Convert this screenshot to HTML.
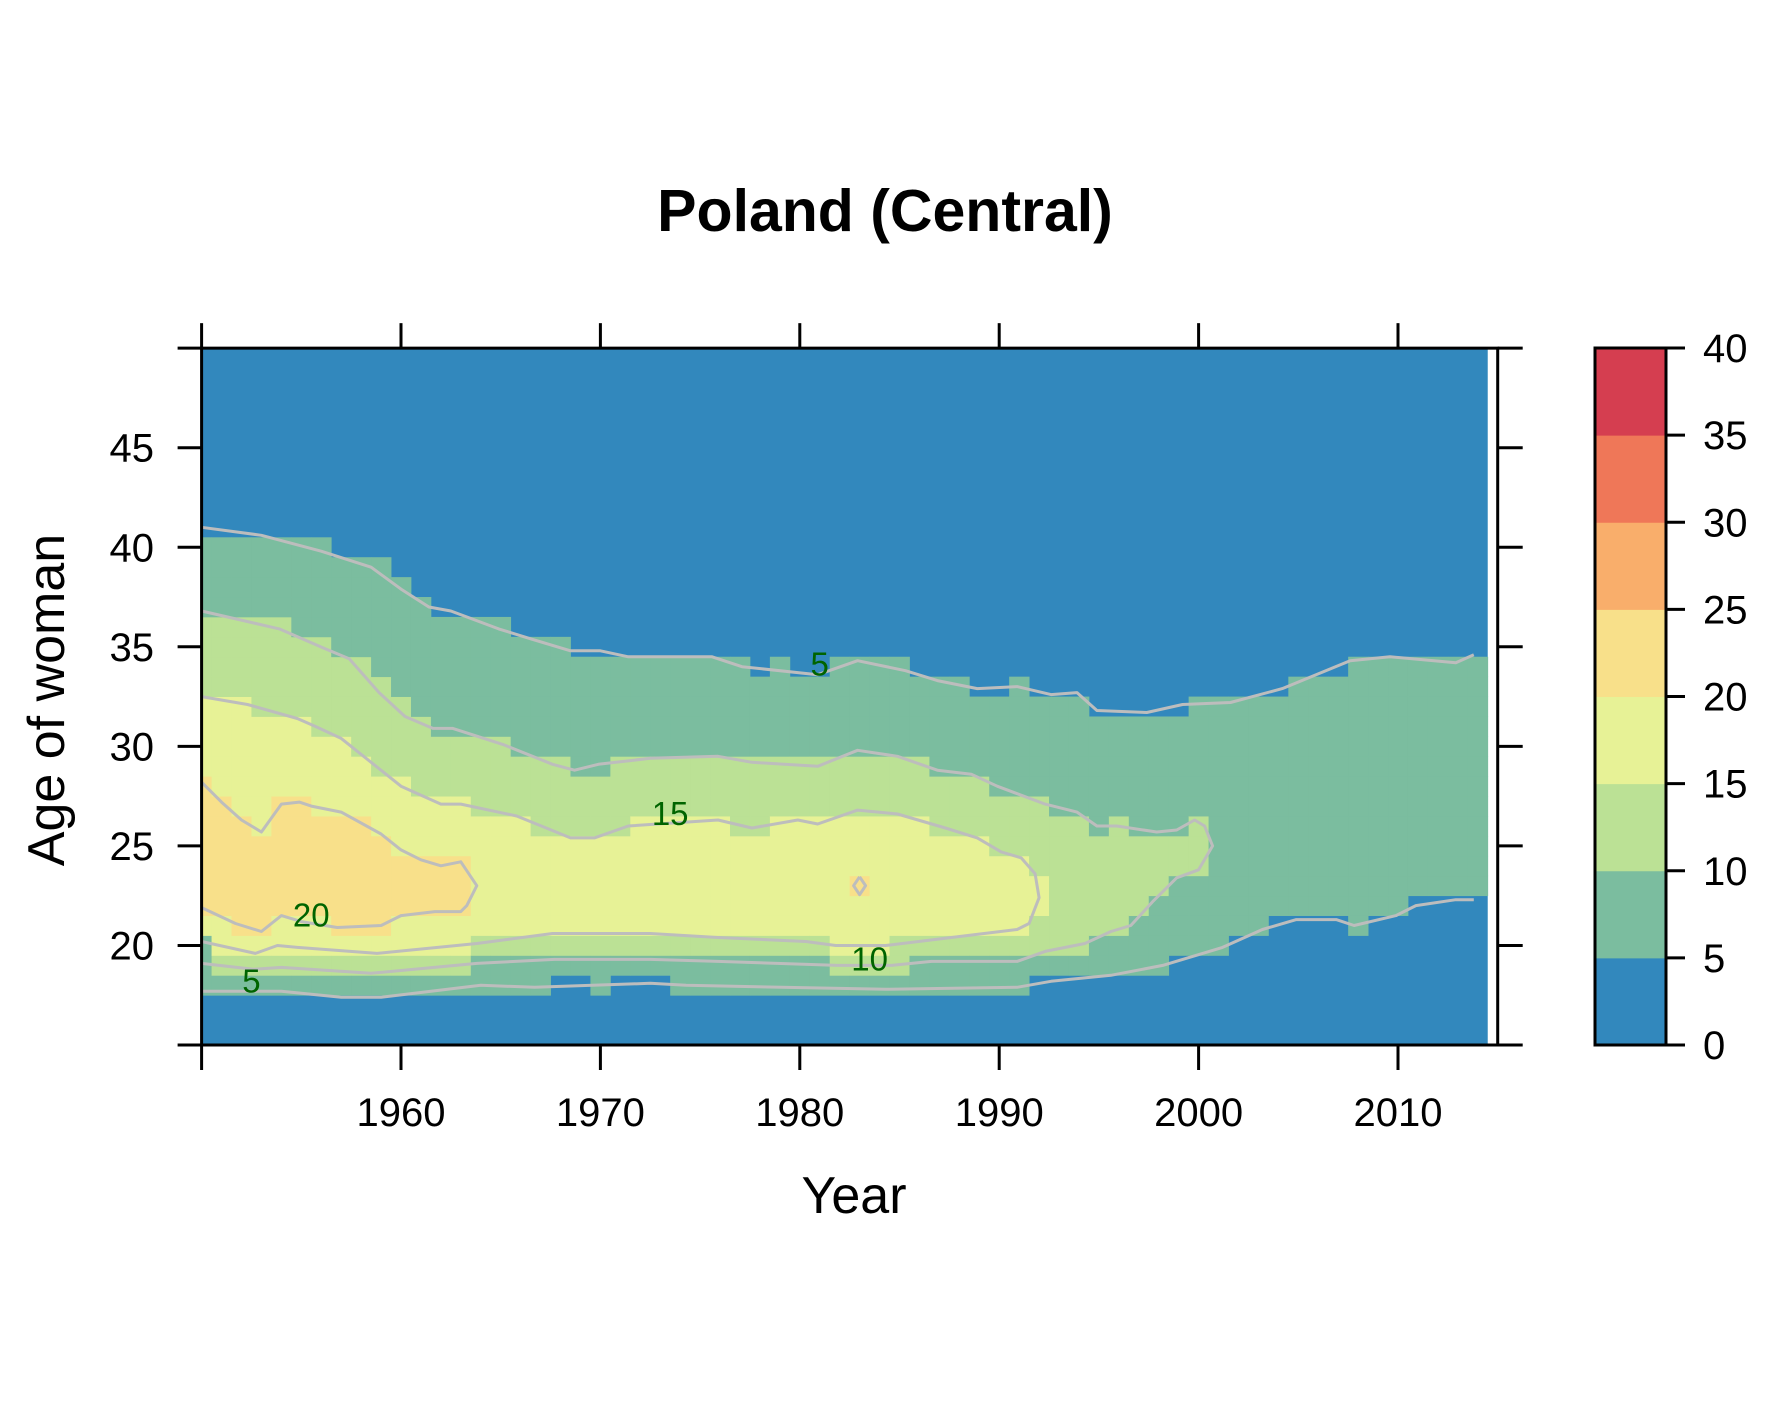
<!DOCTYPE html>
<html><head><meta charset="utf-8"><title>Poland (Central)</title>
<style>
html,body{margin:0;padding:0;background:#fff;}
svg{display:block;font-family:"Liberation Sans",Arial,sans-serif;}
</style></head>
<body>
<svg id="chart" width="1771" height="1417" viewBox="0 0 1771 1417" xmlns="http://www.w3.org/2000/svg">
<rect x="0" y="0" width="1771" height="1417" fill="#ffffff"/>
<text x="885" y="231" text-anchor="middle" font-size="59" font-weight="bold">Poland (Central)</text>
<g id="cells"></g>
<g id="contours"></g>
<g id="clabels"></g>
<g id="axes"></g>
<g id="cbar"></g>
<text x="854" y="1213" text-anchor="middle" font-size="52">Year</text>
<text transform="translate(64,700) rotate(-90)" text-anchor="middle" font-size="52">Age of woman</text>
</svg>
<script>
// ---- data (years 1950..2014; cell ranges of ages where rate >= level) ----
const firstYear = 1950;
const top5 = [40,40,40,40,40,40,40,39,39,39,38,37,36,36,36,36,35,35,35,34,34,34,34,34,34,34,34,34,33,34,33,33,34,34,34,34,33,33,33,32,32,33,32,32,32,31,31,31,31,31,32,32,32,32,32,33,33,33,34,34,34,34,34,34,34];
const bot5 = [18,18,18,18,18,18,18,18,18,18,18,18,18,18,18,18,18,18,19,19,18,19,19,19,18,18,18,18,18,18,18,18,18,18,18,18,18,18,18,18,18,18,19,19,19,19,19,19,19,20,20,20,21,21,22,22,22,22,21,22,22,23,23,23,23];
const top10 = [36,36,36,36,36,35,35,34,34,33,32,31,30,30,30,30,29,29,29,28,28,29,29,29,29,29,29,29,29,29,29,29,29,29,29,29,29,28,28,28,27,27,27,26,26,25,26,25,25,25,26,0,0,0,0,0,0,0,0,0,0,0,0,0,0];
const bot10 = [21,19,19,19,19,19,19,19,19,19,19,19,19,19,20,20,20,20,20,20,20,20,20,20,20,20,20,20,20,20,20,20,19,19,19,19,20,20,20,20,20,20,20,20,20,21,21,22,23,24,24,0,0,0,0,0,0,0,0,0,0,0,0,0,0];
const top15 = [32,32,32,31,31,31,30,30,29,28,28,27,27,27,26,26,26,25,25,25,25,25,26,26,26,26,26,25,25,26,26,26,26,26,26,26,26,25,25,25,24,24,23,0,0,0,0,0,0,0,0,0,0,0,0,0,0,0,0,0,0,0,0,0,0];
const bot15 = [21,20,20,20,20,20,20,20,20,20,20,20,20,20,21,21,21,21,21,21,21,21,21,21,21,21,21,21,21,21,21,21,20,20,20,21,21,21,21,21,21,21,22,0,0,0,0,0,0,0,0,0,0,0,0,0,0,0,0,0,0,0,0,0,0];
const top20 = [28,27,26,25,27,27,26,26,26,25,24,24,24,24,0,0,0,0,0,0,0,0,0,0,0,0,0,0,0,0,0,0,0,23,0,0,0,0,0,0,0,0,0,0,0,0,0,0,0,0,0,0,0,0,0,0,0,0,0,0,0,0,0,0,0];
const bot20 = [22,22,21,21,22,22,22,21,21,21,22,22,22,22,0,0,0,0,0,0,0,0,0,0,0,0,0,0,0,0,0,0,0,23,0,0,0,0,0,0,0,0,0,0,0,0,0,0,0,0,0,0,0,0,0,0,0,0,0,0,0,0,0,0,0];
const ages = [15,16,17,18,19,20,21,22,23,24,25,26,27,28,29,30,31,32,33,34,35,36,37,38,39,40,41,42,43,44,45,46,47,48,49];
const xTicks = [1950,1960,1970,1980,1990,2000,2010];
const xLabels = ["","1960","1970","1980","1990","2000","2010"];
const yTicks = [15,20,25,30,35,40,45,50];
const yLabels = ["","20","25","30","35","40","45",""];
const cbTicks = [0,5,10,15,20,25,30,35,40];
const levels = [0,5,10,15,20,25,30,35,40];
const levelColors = ["#3288bd","#7bbd9f","#bbe195","#e7f296","#f8e08a","#f9ae6b","#ef7758","#d53e50"];
// contour lines: [year, age] points
const contour5Up = [[1950,41.0],[1953,40.6],[1956,39.8],[1958.5,39.0],[1960,37.9],[1961.4,37.0],[1962.5,36.8],[1964.9,35.9],[1966.5,35.4],[1968.5,34.8],[1970,34.8],[1971.4,34.5],[1975.6,34.5],[1977.1,34.0],[1980.9,33.6],[1982.9,34.3],[1985.3,33.8],[1986.9,33.3],[1988.9,32.9],[1990.9,33.0],[1992.6,32.6],[1993.9,32.7],[1994.9,31.8],[1997.4,31.7],[1999.2,32.1],[2001.6,32.2],[2004.2,32.9],[2007.6,34.3],[2009.6,34.5],[2012.9,34.2],[2013.8,34.6]];
const contour5Low = [[1950,17.7],[1954,17.7],[1957,17.4],[1959,17.4],[1964,18.0],[1966.7,17.9],[1972.5,18.1],[1974.3,18.0],[1984.3,17.8],[1990.9,17.9],[1992.6,18.2],[1995.6,18.5],[1998.2,19.0],[2001.2,19.9],[2003.2,20.8],[2004.9,21.3],[2006.9,21.3],[2007.8,21.0],[2009.9,21.5],[2010.9,22.0],[2012.9,22.3],[2013.8,22.3]];
const contour10 = [[1950,36.8],[1953.9,35.9],[1956.2,34.9],[1957.4,34.4],[1958.9,32.7],[1960.2,31.5],[1961.6,30.9],[1962.6,30.9],[1965.1,30.1],[1967.6,29.1],[1968.7,28.8],[1969.9,29.1],[1972.5,29.4],[1975.9,29.5],[1977.6,29.2],[1980.9,29.0],[1982.9,29.8],[1984.9,29.5],[1986.9,28.8],[1988.6,28.6],[1989.9,28.0],[1992.3,27.1],[1993.9,26.7],[1994.9,26.0],[1995.9,26.0],[1997.9,25.7],[1998.9,25.8],[1999.8,26.3],[2000.3,26.0],[2000.7,25.0],[2000,23.8],[1998.9,23.4],[1997.7,22.2],[1996.6,21.0],[1995.6,20.7],[1994.3,20.1],[1992.3,19.7],[1990.9,19.2],[1986.6,19.2],[1984.6,19.0],[1981.9,19.0],[1975.9,19.2],[1972.5,19.3],[1967.7,19.3],[1963.8,19.1],[1958.5,18.6],[1954,18.9],[1952.6,18.8],[1950,19.1]];
const contour15 = [[1950,32.5],[1952.3,32.1],[1954.8,31.4],[1955.7,31.0],[1957,30.4],[1958.5,29.2],[1960,28.0],[1962,27.1],[1963,27.1],[1965.8,26.5],[1968.5,25.4],[1969.7,25.4],[1971.4,26.0],[1975.9,26.3],[1977.6,25.9],[1979.9,26.3],[1980.9,26.1],[1982.9,26.8],[1984.9,26.6],[1987.3,25.9],[1988.9,25.4],[1990.1,24.7],[1991.1,24.4],[1991.8,23.6],[1992,22.4],[1991.5,21.1],[1990.9,20.8],[1987.6,20.4],[1984.3,20.0],[1981.8,20.0],[1980.3,20.2],[1975.9,20.4],[1972.5,20.6],[1967.6,20.6],[1963.8,20.1],[1958.8,19.6],[1954.8,19.9],[1953.8,20.0],[1952.7,19.6],[1950,20.2]];
const contour20 = [[1950,28.2],[1951,27.2],[1952,26.3],[1953,25.7],[1954,27.1],[1954.9,27.2],[1955.5,27.0],[1957,26.7],[1959,25.6],[1960,24.8],[1961,24.3],[1962,24.0],[1963,24.2],[1963.8,23.0],[1963.3,22.0],[1963,21.7],[1961.7,21.7],[1960,21.5],[1959,21.0],[1956.8,20.9],[1955,21.2],[1954,21.5],[1953,20.7],[1951.7,21.1],[1950,21.9]];
const contour20b = [[1983,23.45],[1983.3,23.0],[1983,22.55],[1982.7,23.0],[1983,23.45]];
const contourLabelText = ["5","15","20","5","10"];
const contourLabelPos = [[1981,34.1],[1973.5,26.6],[1955.5,21.5],[1952.5,18.2],[1983.5,19.3]];

// ---- scales ----
const X0 = 201.6, PXY = 19.94, Y0 = 1045, PXA = 19.91;
const xs = yr => X0 + (yr - 1950) * PXY;
const ys = a => Y0 - (a - 15) * PXA;
const NS = "http://www.w3.org/2000/svg";
function mk(tag, attrs, parent){ const e=document.createElementNS(NS,tag); for(const k in attrs) e.setAttribute(k,attrs[k]); parent.appendChild(e); return e; }
function colorFor(v){ for(let i=levels.length-2;i>=0;i--){ if(v>=levels[i]) return levelColors[i]; } return levelColors[0]; }

// ---- heatmap ----
const cells = document.getElementById('cells');
const bg = mk('rect',{x:xs(1950),y:ys(50),width:xs(firstYear+top5.length-0.5)-xs(1950),height:ys(15)-ys(50),fill:levelColors[0]},cells);


function inRange(lo,hi,a){ return lo>0 && hi>0 && a>=lo && a<=hi; }
for(let i=0;i<top5.length;i++){
  const yr = firstYear+i;
  const xl = Math.max(xs(1950), xs(yr-0.5)), xr = xs(yr+0.5);
  for(const a of ages){
    let cls = 0;
    if(inRange(bot5[i],top5[i],a)) cls=1;
    if(inRange(bot10[i],top10[i],a)) cls=2;
    if(inRange(bot15[i],top15[i],a)) cls=3;
    if(inRange(bot20[i],top20[i],a)) cls=4;
    if(cls===0) continue;
    const v = levels[cls]+2.5;
    const yt = ys(Math.min(a+0.5,50)), yb = ys(Math.max(a-0.5,15));
    const r = mk('rect',{x:xl.toFixed(2),y:yt.toFixed(2),width:(xr-xl+0.4).toFixed(2),height:(yb-yt+0.4).toFixed(2),fill:colorFor(v)},cells);
    
    
  }
}

// ---- contours ----
const cg = document.getElementById('contours');
[contour5Up,contour5Low,contour10,contour15,contour20,contour20b].forEach(pts=>{
  const p = mk('polyline',{points:pts.map(d=>xs(d[0]).toFixed(1)+','+ys(d[1]).toFixed(1)).join(' '),fill:'none',stroke:'#bdbdbd','stroke-width':3,'stroke-linejoin':'round'},cg);
  
  
});
const lg = document.getElementById('clabels');
contourLabelText.forEach((t,i)=>{
  const e = mk('text',{x:xs(contourLabelPos[i][0]),y:ys(contourLabelPos[i][1])+11,'text-anchor':'middle','font-size':33,fill:'#006400'},lg);
  e.textContent=t;
  
  
});

// ---- axes ----
const ax = document.getElementById('axes');
const frame = mk('rect',{x:X0,y:ys(50),width:xs(2015)-X0,height:ys(15)-ys(50),fill:'none',stroke:'#000','stroke-width':3},ax);


xTicks.forEach((t,i)=>{
  const x = xs(t);
  const a = mk('line',{x1:x,y1:ys(15),x2:x,y2:ys(15)+25,stroke:'#000','stroke-width':3},ax);
  
  
  const b = mk('line',{x1:x,y1:ys(50),x2:x,y2:ys(50)-25,stroke:'#000','stroke-width':3},ax);
  
  
  if(xLabels[i]){
    const l = mk('text',{x:x,y:1126,'text-anchor':'middle','font-size':40},ax);
    l.textContent = xLabels[i];
    
    
  }
});
yTicks.forEach((t,i)=>{
  const y = ys(t);
  const a = mk('line',{x1:X0-24,y1:y,x2:X0,y2:y,stroke:'#000','stroke-width':3},ax);
  
  
  const b = mk('line',{x1:xs(2015),y1:y,x2:xs(2015)+25,y2:y,stroke:'#000','stroke-width':3},ax);
  
  
  if(yLabels[i]){
    const l = mk('text',{x:154,y:y+14,'text-anchor':'end','font-size':40},ax);
    l.textContent = yLabels[i];
    
    
  }
});

// ---- colorbar ----
const cb = document.getElementById('cbar');
const CBX0 = 1595, CBX1 = 1666;
const cbY = v => 1045 - v*(1045-348)/40;
for(let i=0;i<levels.length-1;i++){
  const r = mk('rect',{x:CBX0,y:cbY(levels[i+1]),width:CBX1-CBX0,height:cbY(levels[i])-cbY(levels[i+1])+0.5,fill:levelColors[i]},cb);
  
  
}
const cbf = mk('rect',{x:CBX0,y:cbY(40),width:CBX1-CBX0,height:cbY(0)-cbY(40),fill:'none',stroke:'#000','stroke-width':3},cb);


cbTicks.forEach(t=>{
  const y = cbY(t);
  const a = mk('line',{x1:CBX1,y1:y,x2:1685,y2:y,stroke:'#000','stroke-width':3},cb);
  
  
  const l = mk('text',{x:1703,y:y+14,'font-size':40},cb);
  l.textContent = String(t);
  
  
});
</script>
</body></html>
